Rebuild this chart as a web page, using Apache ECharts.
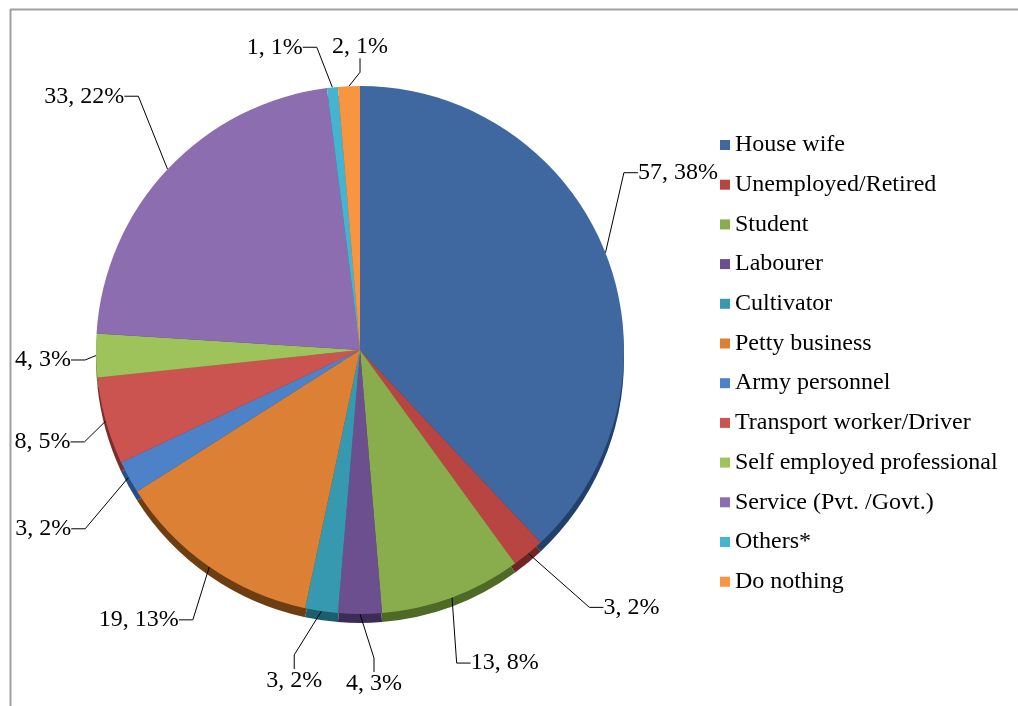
<!DOCTYPE html>
<html>
<head>
<meta charset="utf-8">
<script src="https://cdn.jsdelivr.net/npm/echarts@6/dist/echarts.min.js"></script>
<style>
html,body{margin:0;padding:0;background:#fff;}
#chart{width:1018px;height:706px;}
</style>
</head>
<body>
<div id="chart"></div>
<script>
const categories = ['House wife','Unemployed/Retired','Student','Labourer','Cultivator','Petty business','Army personnel','Transport worker/Driver','Self employed professional','Service (Pvt. /Govt.)','Others*','Do nothing'];
const counts = [57,3,13,4,3,19,3,8,4,33,1,2];
const percentLabels = [38,2,8,3,2,13,2,5,3,22,1,1];
const colors = ['#3F67A0','#B94542','#89AC4C','#6B4F8E','#3799B0','#DB8034','#4D82C8','#CC5450','#9DC35A','#8B6DB0','#45B4D1','#F79540'];
const sideColors = ['#22406A','#6E2624','#4E6A26','#3E2C58','#1B5E6E','#6E3E12','#2A4E80','#7A2E2C','#5E7C30','#52406C','#22707F','#9A5A20'];
// label nudges (style): [dx of text edge relative to default rect, dy of text centre]
const labelNudge = [[-7,-72],[40,37],[-21,45],[-33,40],[23,48],[-3,35],[-24,41],[0,15],[11,4],[-13,-58],[77,-43],[59,-18]];

const font = '"Liberation Serif","Times New Roman",serif';
const chart = echarts.init(document.getElementById('chart'), null, {renderer:'canvas'});

const mainData = categories.map((n,i)=>({name:n, value:counts[i], itemStyle:{color:colors[i]}}));
const sideData = categories.map((n,i)=>({name:n, value:counts[i], itemStyle:{color:sideColors[i]}}));

chart.setOption({
  animation:false,
  backgroundColor:'#ffffff',
  graphic:[
    {type:'line', shape:{x1:10.5,y1:9,x2:10.5,y2:706}, style:{stroke:'#A0A0A0',lineWidth:2}},
    {type:'line', shape:{x1:10,y1:9.5,x2:1018,y2:9.5}, style:{stroke:'#A0A0A0',lineWidth:2}}
  ],
  legend:{
    orient:'vertical',
    left:720, top:133, padding:0,
    itemWidth:10, itemHeight:10, itemGap:15.7,
    icon:'rect',
    data:categories,
    textStyle:{fontFamily:font, fontSize:24, color:'#000'}
  },
  series:[
    {
      type:'pie', name:'main', z:3,
      center:[360,350], radius:264,
      startAngle:90, clockwise:true,
      data:mainData,
      itemStyle:{borderWidth:0},
      label:{
        show:true, position:'outside', overflow:'none',
        fontFamily:font, fontSize:24, color:'#000',
        formatter:p=>p.value+', '+percentLabels[p.dataIndex]+'%'
      },
      labelLine:{show:true, length:22, length2:14, lineStyle:{color:'#000',width:1}},
      labelLayout:function(params){
        const r = params.labelRect;
        const n = labelNudge[params.dataIndex];
        const isLeft = params.align === 'right' || (r.x + r.width/2 < 360);
        return {
          x: isLeft ? r.x + r.width + n[0] : r.x + n[0],
          y: r.y + r.height/2 + n[1],
          align: isLeft ? 'right' : 'left',
          verticalAlign:'middle'
        };
      },
      emphasis:{disabled:true}
    },
    {
      type:'pie', name:'side', z:1, silent:true,
      center:[360,359], radius:264,
      startAngle:90, clockwise:true,
      data:sideData,
      label:{show:false}, labelLine:{show:false},
      emphasis:{disabled:true}, tooltip:{show:false}
    }
  ]
});
</script>
</body>
</html>
